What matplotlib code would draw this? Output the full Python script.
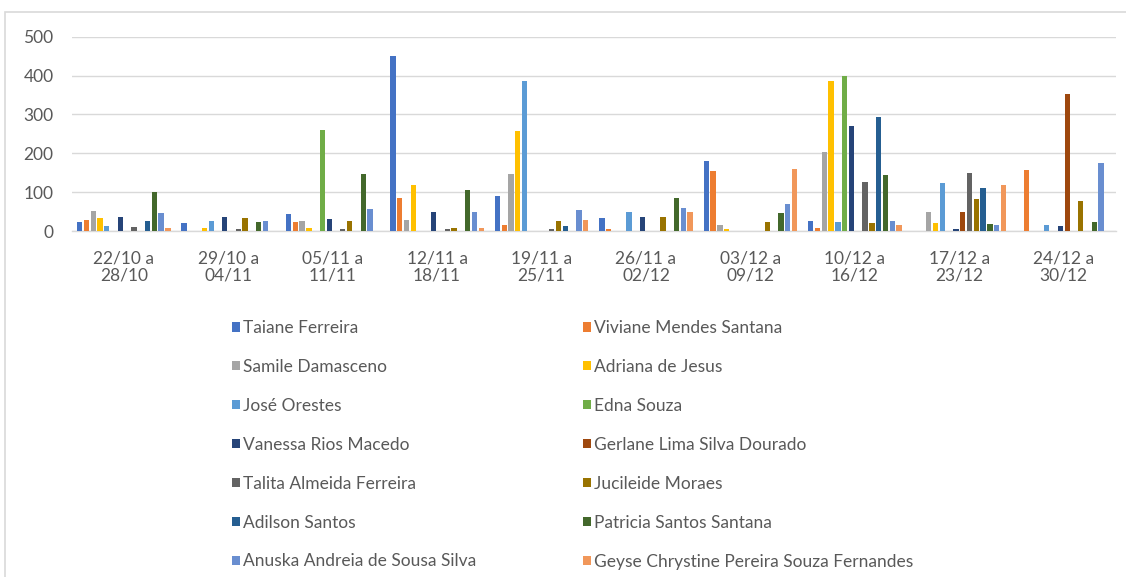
import numpy as np
import matplotlib as mpl
mpl.use('Agg')
import matplotlib.pyplot as plt
from matplotlib.patches import Rectangle

# weekly periods
weeks = ['22/10 a\n28/10', '29/10 a\n04/11', '05/11 a\n11/11', '12/11 a\n18/11',
         '19/11 a\n25/11', '26/11 a\n02/12', '03/12 a\n09/12', '10/12 a\n16/12',
         '17/12 a\n23/12', '24/12 a\n30/12']

names = ['Taiane Ferreira', 'Viviane Mendes Santana', 'Samile Damasceno',
         'Adriana de Jesus', 'José Orestes', 'Edna Souza', 'Vanessa Rios Macedo',
         'Gerlane Lima Silva Dourado', 'Talita Almeida Ferreira', 'Jucileide Moraes',
         'Adilson Santos', 'Patricia Santos Santana', 'Anuska Andreia de Sousa Silva',
         'Geyse Chrystine Pereira Souza Fernandes']

colors = ['#4472C4', '#ED7D31', '#A5A5A5', '#FFC000', '#5B9BD5', '#70AD47',
          '#264478', '#9E480E', '#636363', '#997300', '#255E91', '#43682B',
          '#698ED0', '#F1975A']

# one list per person, one value per week
taiane    = [24, 21, 43, 450, 90, 34, 181, 27, 0, 0]
viviane   = [29, 0, 23, 85, 15, 4, 154, 7, 0, 156]
samile    = [52, 0, 27, 29, 146, 0, 15, 204, 48, 0]
adriana   = [34, 7, 7, 119, 258, 0, 4, 386, 21, 0]
jose      = [12, 27, 0, 0, 386, 48, 0, 23, 124, 15]
edna      = [0, 0, 260, 0, 0, 0, 0, 400, 0, 0]
vanessa   = [37, 37, 32, 48, 0, 37, 0, 269, 4, 12]
gerlane   = [0, 0, 0, 0, 0, 0, 0, 0, 48, 352]
talita    = [10, 4, 4, 4, 4, 0, 0, 127, 149, 0]
jucileide = [0, 34, 27, 7, 27, 37, 23, 21, 82, 76]
adilson   = [27, 0, 0, 0, 12, 0, 0, 293, 110, 0]
patricia  = [100, 23, 146, 105, 0, 84, 46, 143, 18, 24]
anuska    = [46, 27, 57, 48, 54, 59, 70, 27, 15, 176]
geyse     = [7, 0, 0, 7, 29, 48, 160, 15, 119, 0]

series = [taiane, viviane, samile, adriana, jose, edna, vanessa, gerlane,
          talita, jucileide, adilson, patricia, anuska, geyse]

txt = '#595959'
grid = '#D9D9D9'
plt.rcParams['font.family'] = ['Lato', 'DejaVu Sans']

fig = plt.figure(figsize=(11.26, 5.77), dpi=100)
ax = fig.add_axes([71.5 / 1126, 346 / 577, (1116 - 71.5) / 1126, 194.3 / 577])

x = np.arange(len(weeks))
slot = 0.065
bars = []
for i, vals in enumerate(series):
    b = ax.bar(x + (i - 6.5) * slot, vals, width=0.051, color=colors[i],
               linewidth=0, zorder=3)
    bars.append(b)

ax.set_xlim(-0.5, len(weeks) - 0.5)
ax.set_ylim(0, 500)
ax.set_yticks(range(0, 501, 100))
ax.yaxis.grid(True, color=grid, linewidth=1.0, zorder=0)
for s in ['left', 'right', 'top']:
    ax.spines[s].set_visible(False)
ax.spines['bottom'].set_color(grid)
ax.spines['bottom'].set_linewidth(1.0)
ax.set_xticks(x)
ax.set_xticklabels(weeks, linespacing=1.1)
ax.tick_params(axis='both', length=0, colors=txt, labelsize=12.5)
ax.tick_params(axis='y', pad=13)
ax.tick_params(axis='x', pad=14)

# legend in two columns, Excel order (row-wise)
leg_kw = dict(frameon=False, loc='upper left', borderpad=0, borderaxespad=0,
              handlelength=0.46, handleheight=0.46, handletextpad=0.2,
              labelspacing=1.32, fontsize=12.5, labelcolor=txt)
fig.legend([bars[i] for i in range(0, 14, 2)], [names[i] for i in range(0, 14, 2)],
           bbox_to_anchor=(232 / 1126, 1 - 320 / 577), **leg_kw)
fig.legend([bars[i] for i in range(1, 14, 2)], [names[i] for i in range(1, 14, 2)],
           bbox_to_anchor=(583 / 1126, 1 - 320 / 577), **leg_kw)

# chart border
fig.patches.append(Rectangle((5 / 1126, -0.05), 1.1, 1 - 12 / 577 + 0.05,
                             transform=fig.transFigure, fill=False,
                             edgecolor=grid, linewidth=1.2))

fig.savefig('out.png', dpi=100)
